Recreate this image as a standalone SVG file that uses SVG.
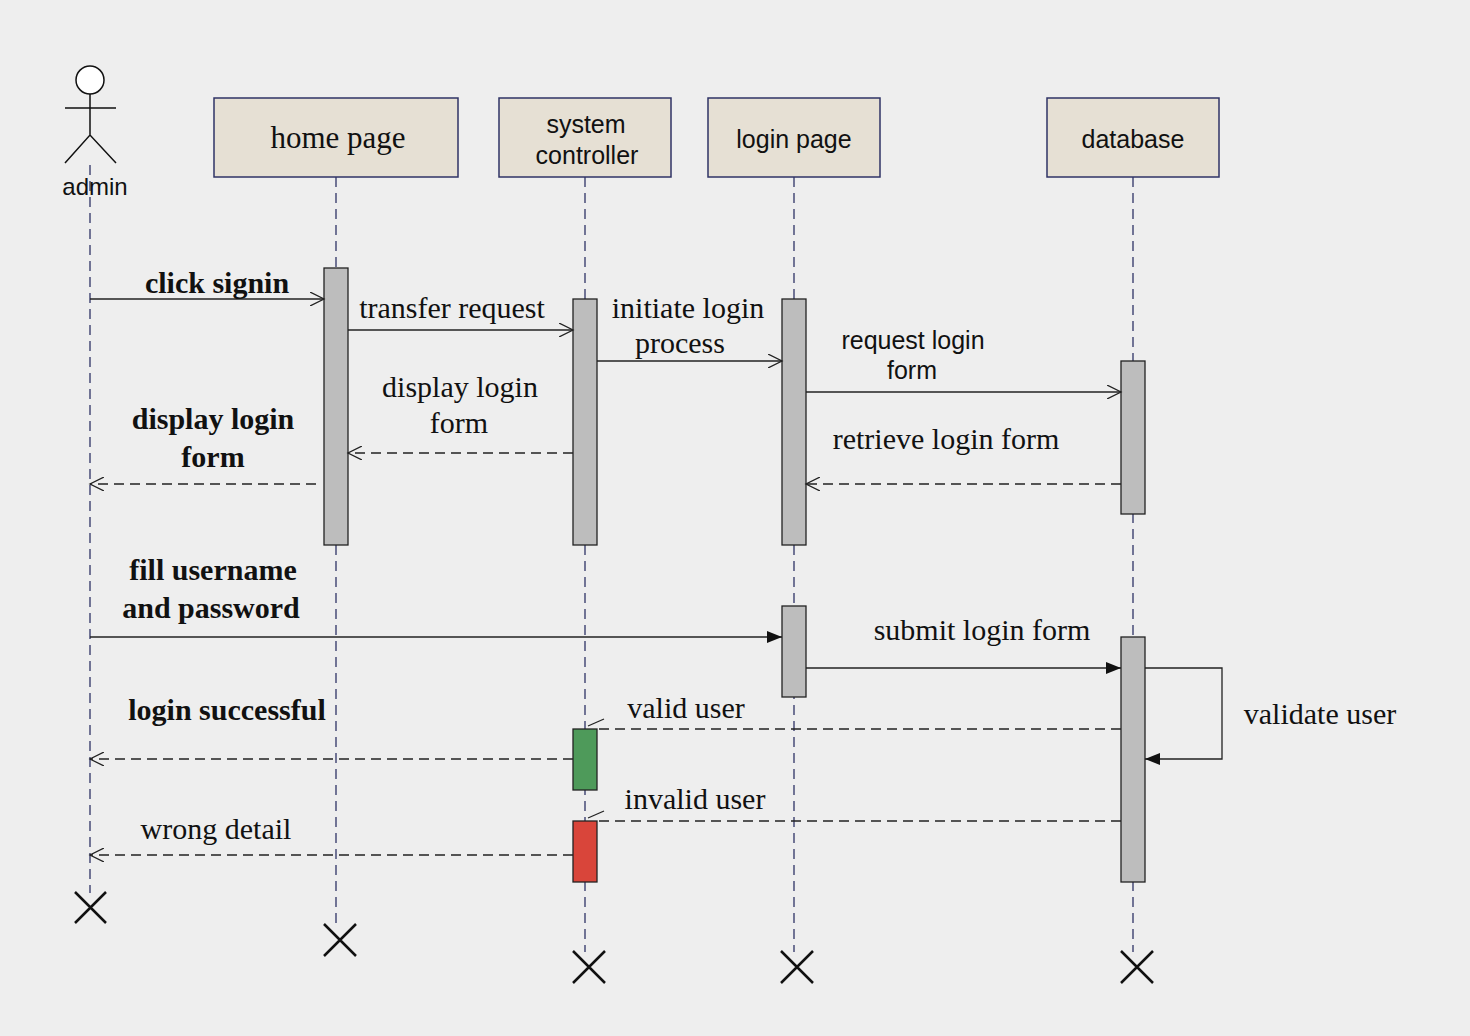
<svg xmlns="http://www.w3.org/2000/svg" width="1470" height="1036" viewBox="0 0 1470 1036">
<defs>
<style>
.box{fill:#e6e0d4;stroke:#2f3366;stroke-width:1.5}
.life{stroke:#2f3366;stroke-width:1.3;stroke-dasharray:10,6;fill:none}
.bar{fill:#bdbdbd;stroke:#222;stroke-width:1.3}
.msg{stroke:#222;stroke-width:1.3;fill:none}
.dash{stroke-dasharray:10,6}
.sans{font-family:"Liberation Sans",Arial,sans-serif;fill:#111;text-anchor:middle}
.serif{font-family:"Liberation Serif","Times New Roman",serif;fill:#111;text-anchor:middle}
.b{font-weight:bold}
.x{stroke:#111;stroke-width:2.5}
</style>
<marker id="open" markerWidth="16" markerHeight="14" refX="14" refY="7" orient="auto" markerUnits="userSpaceOnUse"><path d="M0,0 L14,7 L0,14" fill="none" stroke="#222" stroke-width="1.3"/></marker>
<marker id="fill" markerWidth="16" markerHeight="14" refX="15" refY="6" orient="auto" markerUnits="userSpaceOnUse"><path d="M0,0 L15,6 L0,12 Z" fill="#111"/></marker>
</defs>
<rect width="1470" height="1036" fill="#eeeeee"/>
<g id="lifelines">
<line class="life" x1="90" y1="165" x2="90" y2="893"/>
<line class="life" x1="336" y1="177" x2="336" y2="925"/>
<line class="life" x1="585" y1="177" x2="585" y2="952"/>
<line class="life" x1="794" y1="177" x2="794" y2="952"/>
<line class="life" x1="1133" y1="177" x2="1133" y2="952"/>
</g>
<g id="admin">
<circle cx="90" cy="80" r="14" fill="#fff" stroke="#111" stroke-width="1.5"/>
<path d="M90,94 V135 M65,108 H116 M65,163 L90,135 L116,163" stroke="#111" stroke-width="1.5" fill="none"/>
<text class="sans" x="95" y="195" font-size="24">admin</text>
</g>
<g id="home-page"><rect class="box" x="214" y="98" width="244" height="79"/><text class="serif" x="338" y="148" font-size="31">home page</text></g>
<g id="system-controller"><rect class="box" x="499" y="98" width="172" height="79"/><text class="sans" x="586" y="133" font-size="25">system</text><text class="sans" x="587" y="164" font-size="25">controller</text></g>
<g id="login-page"><rect class="box" x="708" y="98" width="172" height="79"/><text class="sans" x="794" y="148" font-size="25">login page</text></g>
<g id="database"><rect class="box" x="1047" y="98" width="172" height="79"/><text class="sans" x="1133" y="148" font-size="25">database</text></g>
<g id="activations">
<rect class="bar" x="324" y="268" width="24" height="277"/>
<rect class="bar" x="573" y="299" width="24" height="246"/>
<rect class="bar" x="782" y="299" width="24" height="246"/>
<rect class="bar" x="1121" y="361" width="24" height="153"/>
<rect class="bar" x="782" y="606" width="24" height="91"/>
<rect class="bar" x="1121" y="637" width="24" height="245"/>
<rect x="573" y="729" width="24" height="61" fill="#4e9a5a" stroke="#222" stroke-width="1.3"/>
<rect x="573" y="821" width="24" height="61" fill="#d9453a" stroke="#222" stroke-width="1.3"/>
</g>
<g id="connectors">
<line class="msg" x1="90" y1="299" x2="324" y2="299" marker-end="url(#open)"/>
<line class="msg" x1="348" y1="330" x2="573" y2="330" marker-end="url(#open)"/>
<line class="msg" x1="597" y1="361" x2="782" y2="361" marker-end="url(#open)"/>
<line class="msg" x1="806" y1="392" x2="1121" y2="392" marker-end="url(#open)"/>
<line class="msg dash" x1="1121" y1="484" x2="806" y2="484" marker-end="url(#open)"/>
<line class="msg dash" x1="573" y1="453" x2="348" y2="453" marker-end="url(#open)"/>
<line class="msg dash" x1="316" y1="484" x2="90" y2="484" marker-end="url(#open)"/>
<line class="msg" x1="90" y1="637" x2="782" y2="637" marker-end="url(#fill)"/>
<line class="msg" x1="806" y1="668" x2="1121" y2="668" marker-end="url(#fill)"/>
<polyline class="msg" points="1145,668 1222,668 1222,759 1145,759" marker-end="url(#fill)"/>
<line class="msg dash" x1="1121" y1="729" x2="597" y2="729"/>
<path class="msg" d="M604,719 L588,726"/>
<line class="msg dash" x1="573" y1="759" x2="90" y2="759" marker-end="url(#open)"/>
<line class="msg dash" x1="1121" y1="821" x2="597" y2="821"/>
<path class="msg" d="M604,811 L588,818"/>
<line class="msg dash" x1="573" y1="855" x2="90" y2="855" marker-end="url(#open)"/>
</g>
<g id="labels">
<text class="serif b" x="217" y="293" font-size="30">click signin</text>
<text class="serif" x="452" y="318" font-size="30">transfer request</text>
<text class="serif" x="688" y="318" font-size="30">initiate login</text>
<text class="serif" x="680" y="353" font-size="30">process</text>
<text class="sans" x="913" y="349" font-size="25">request login</text>
<text class="sans" x="912" y="379" font-size="25">form</text>
<text class="serif" x="946" y="449" font-size="30">retrieve login form</text>
<text class="serif" x="460" y="397" font-size="30">display login</text>
<text class="serif" x="459" y="433" font-size="30">form</text>
<text class="serif b" x="213" y="429" font-size="30">display login</text>
<text class="serif b" x="213" y="467" font-size="30">form</text>
<text class="serif b" x="213" y="580" font-size="30">fill username</text>
<text class="serif b" x="211" y="618" font-size="30">and password</text>
<text class="serif" x="982" y="640" font-size="30">submit login form</text>
<text class="serif" x="1320" y="724" font-size="30">validate user</text>
<text class="serif" x="686" y="718" font-size="30">valid user</text>
<text class="serif b" x="227" y="720" font-size="30">login successful</text>
<text class="serif" x="695" y="809" font-size="30">invalid user</text>
<text class="serif" x="216" y="839" font-size="30">wrong detail</text>
</g>
<g id="destroy">
<path class="x" d="M75,892 L106,923 M106,892 L75,923"/>
<path class="x" d="M324,924 L356,956 M356,924 L324,956"/>
<path class="x" d="M573,951 L605,983 M605,951 L573,983"/>
<path class="x" d="M781,951 L813,983 M813,951 L781,983"/>
<path class="x" d="M1121,951 L1153,983 M1153,951 L1121,983"/>
</g>
</svg>
